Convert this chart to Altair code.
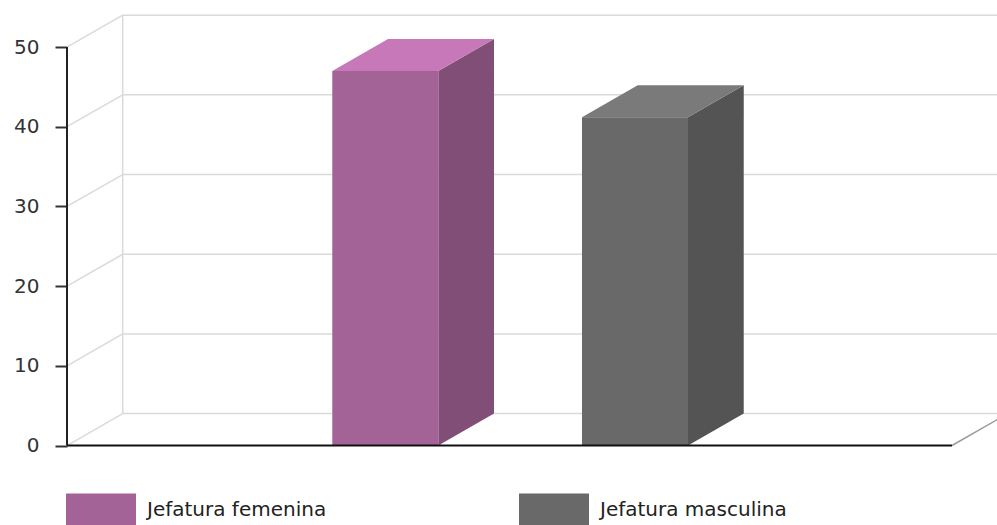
import altair as alt
import pandas as pd

# ---------------- data ----------------
categories = ["Jefatura femenina", "Jefatura masculina"]
values = [47.0, 41.2]
front_colors = ["#A36397", "#696969"]
side_colors = ["#814E78", "#545454"]
top_colors = ["#C678B8", "#7A7A7A"]
y_ticks = [0, 10, 20, 30, 40, 50]

# ---------------- layout (scale frame, in data units) ----------------
X_LO, X_FRONT_HI, X_HI = -1.2747, 2.2695, 2.4497
Y_LO, Y_HI = -9.975, 55.90
HW = 0.2123          # half bar width (category units)
DX, DY = 0.2231, 4.0  # 3D depth offset (x in category units, y in value units)
FONT = "DejaVu Sans"

xs = alt.Scale(domain=[X_LO, X_HI], nice=False, zero=False)
ys = alt.Scale(domain=[Y_LO, Y_HI], nice=False, zero=False)
y_axis = alt.Axis(
    values=y_ticks, grid=False, domain=False, title=None,
    tickSize=12, tickWidth=2, tickColor="#333333",
    labelFont=FONT, labelFontSize=20, labelColor="#333333", labelPadding=16,
)


def X(field="x"):
    return alt.X(f"{field}:Q", scale=xs, axis=None)


def Y(field="y"):
    return alt.Y(f"{field}:Q", scale=ys, axis=y_axis)


# ---------------- frames ----------------
front = pd.DataFrame({
    "category": categories,
    "x": [i - HW for i in range(len(categories))],
    "x2": [i + HW for i in range(len(categories))],
    "y": [0.0] * len(categories),
    "y2": values,
})

side_rows, top_rows = [], []
for i, (c, v) in enumerate(zip(categories, values)):
    side_rows.append({"category": c, "fill": side_colors[i], "x": i + HW, "y": v, "y2": 0.0})
    side_rows.append({"category": c, "fill": side_colors[i], "x": i + HW + DX, "y": v + DY, "y2": DY})
    top_rows.append({"category": c, "fill": top_colors[i], "y": v, "x": i - HW, "x2": i + HW})
    top_rows.append({"category": c, "fill": top_colors[i], "y": v + DY, "x": i - HW + DX, "x2": i + HW + DX})
side = pd.DataFrame(side_rows)
top = pd.DataFrame(top_rows)

grid_rows = []
for t in y_ticks:
    grid_rows.append({"x": X_LO + DX, "y": t + DY, "x2": X_HI + DX, "y2": t + DY})
    grid_rows.append({"x": X_LO, "y": t, "x2": X_LO + DX, "y2": t + DY})
grid_rows.append({"x": X_LO + DX, "y": DY, "x2": X_LO + DX, "y2": y_ticks[-1] + DY})
grid = pd.DataFrame(grid_rows)

floor_front = pd.DataFrame([{"x": X_LO, "y": 0.0, "x2": X_FRONT_HI, "y2": 0.0}])
floor_side = pd.DataFrame([{"x": X_FRONT_HI, "y": 0.0, "x2": X_FRONT_HI + DX, "y2": DY}])
axis_line = pd.DataFrame([{"y": y_ticks[0], "y2": y_ticks[-1]}])


def seg_enc():
    return dict(x=X(), y=Y(), x2="x2:Q", y2="y2:Q")


grid_layer = alt.Chart(grid).mark_rule(color="#DADADA", strokeWidth=1.5, clip=True).encode(**seg_enc())

side_layer = alt.Chart(side).mark_area(orient="vertical", clip=True).encode(
    x=X(), y=Y(), y2="y2:Q",
    fill=alt.Fill("fill:N", scale=None),
    detail="category:N",
)

top_layer = alt.Chart(top).mark_area(orient="horizontal", clip=True).encode(
    y=Y(), x=X(), x2="x2:Q",
    fill=alt.Fill("fill:N", scale=None),
    detail="category:N",
)

front_layer = alt.Chart(front).mark_rect(clip=True).encode(
    x=X(), x2="x2:Q", y=Y(), y2="y2:Q",
    color=alt.Color(
        "category:N",
        scale=alt.Scale(domain=categories, range=front_colors),
        legend=alt.Legend(
            title=None, orient="none", legendX=-1, legendY=475, direction="horizontal",
            symbolType="M-1,-0.486H1V0.486H-1Z", symbolSize=4900,
            symbolStrokeWidth=0, symbolOpacity=1, padding=0,
            labelFont=FONT, labelFontSize=20, labelColor="#222222",
            labelOffset=11, columnPadding=192, labelLimit=500,
        ),
    ),
)

floor_side_layer = alt.Chart(floor_side).mark_rule(color="#9A9A9A", strokeWidth=1.5, clip=True).encode(**seg_enc())
floor_front_layer = alt.Chart(floor_front).mark_rule(color="#111111", strokeWidth=2).encode(**seg_enc())

axis_layer = alt.Chart(axis_line).mark_rule(color="#222222", strokeWidth=2).encode(
    x=alt.value(0), y=Y(), y2="y2:Q",
)

chart = alt.layer(
    grid_layer, side_layer, top_layer, front_layer,
    floor_side_layer, floor_front_layer, axis_layer,
).properties(
    width=930,
    height=525,
    autosize=alt.AutoSizeParams(type="none"),
    padding={"left": 67, "top": 0, "right": 0, "bottom": 0},
    background="white",
).configure_view(stroke=None)

chart.save("out.html", embed_options={"renderer": "svg", "actions": False})
